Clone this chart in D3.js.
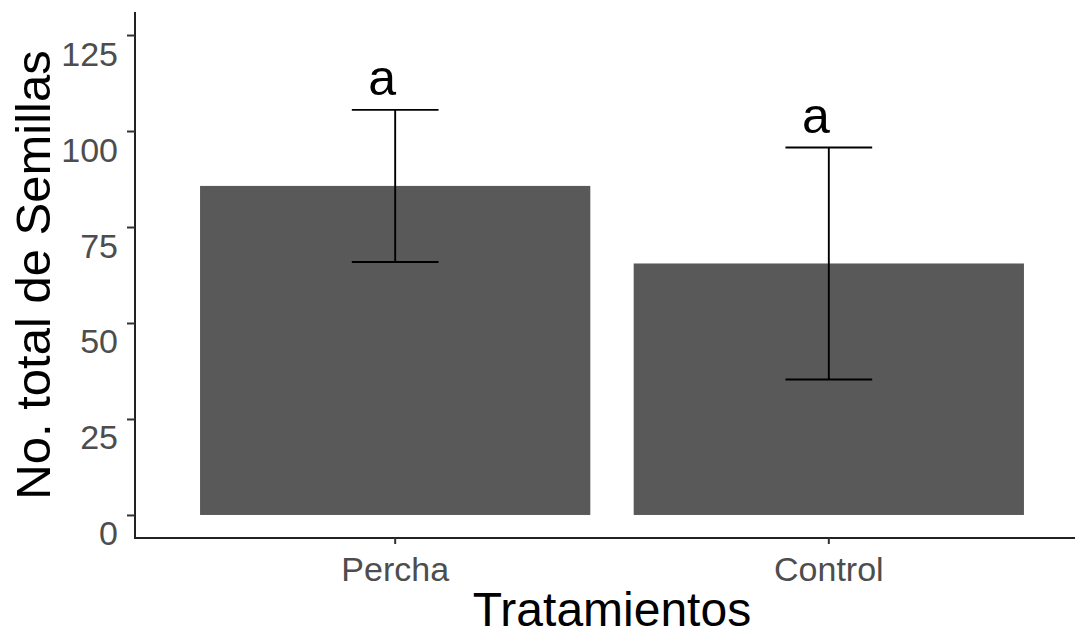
<!DOCTYPE html>
<html>
<head>
<meta charset="utf-8">
<script src="https://cdn.jsdelivr.net/npm/d3@7"></script>
<style>
  html, body { margin: 0; padding: 0; background: #fff; }
  svg { display: block; font-family: "Liberation Sans", Arial, sans-serif; }
</style>
</head>
<body>
<svg id="chart" width="1075" height="634"></svg>
<script>
// Seed totals per treatment, with error-bar half-widths and significance letters
const categories = ["Percha", "Control"];
const means = [85.7, 65.5];
const errors = [19.8, 30.2];
const letters = ["a", "a"];
const yTicks = [0, 25, 50, 75, 100, 125];

const W = 1075, H = 634;
const panel = { left: 135, top: 12, bottom: 538, right: 1089 };

const svg = d3.select("#chart");

const x = d3.scaleBand()
  .domain(categories)
  .range([panel.left, panel.right])
  .paddingInner(0.1)
  .paddingOuter(0.15);

const y = d3.scaleLinear()
  .domain([-6, 131])
  .range([panel.bottom, panel.top]);

const step = x.step();
const data = categories.map((c, i) => ({ cat: c, mean: means[i], err: errors[i], letter: letters[i] }));

// Bars
svg.append("g")
  .selectAll("rect")
  .data(data)
  .join("rect")
  .attr("x", d => x(d.cat))
  .attr("width", x.bandwidth())
  .attr("y", d => y(d.mean))
  .attr("height", d => y(0) - y(d.mean))
  .attr("fill", "#595959");

// Error bars
const whisker = step * 0.2;
const eb = svg.append("g").attr("stroke", "#000").attr("stroke-width", 1.9).attr("fill", "none");
data.forEach(d => {
  const cx = x(d.cat) + x.bandwidth() / 2;
  const top = y(d.mean + d.err), bot = y(d.mean - d.err);
  eb.append("line").attr("x1", cx).attr("x2", cx).attr("y1", top).attr("y2", bot);
  eb.append("line").attr("x1", cx - whisker / 2).attr("x2", cx + whisker / 2).attr("y1", top).attr("y2", top);
  eb.append("line").attr("x1", cx - whisker / 2).attr("x2", cx + whisker / 2).attr("y1", bot).attr("y2", bot);
});

// Significance letters above each error bar
svg.append("g")
  .selectAll("text")
  .data(data)
  .join("text")
  .attr("x", d => x(d.cat) + x.bandwidth() / 2 - 13)
  .attr("y", d => y(d.mean + d.err) - 15)
  .attr("text-anchor", "middle")
  .attr("font-size", 50)
  .attr("fill", "#000")
  .text(d => d.letter);

// Y axis
const yAxis = svg.append("g").attr("transform", `translate(${panel.left},0)`)
  .call(d3.axisLeft(y).tickValues(yTicks).tickSize(8).tickPadding(9).tickFormat(d3.format("d")));
yAxis.select(".domain").attr("stroke", "#222").attr("stroke-width", 2)
  .attr("d", `M0,${panel.top}V${panel.bottom}`);
yAxis.selectAll(".tick line").attr("stroke", "#333").attr("stroke-width", 2);
yAxis.selectAll(".tick text")
  .attr("font-size", 34)
  .attr("fill", "#4D4D4D")
  .attr("font-family", "Liberation Sans, Arial, sans-serif")
  .attr("dy", 30);

// X axis
const xAxis = svg.append("g").attr("transform", `translate(0,${panel.bottom})`)
  .call(d3.axisBottom(x).tickSize(6).tickPadding(10));
xAxis.select(".domain").attr("stroke", "#222").attr("stroke-width", 2)
  .attr("d", `M${panel.left - 1},0H${panel.right}`);
xAxis.selectAll(".tick line").attr("stroke", "#333").attr("stroke-width", 2);
xAxis.selectAll(".tick text")
  .attr("font-size", 34)
  .attr("fill", "#4D4D4D")
  .attr("font-family", "Liberation Sans, Arial, sans-serif")
  .attr("dy", 0)
  .attr("y", 43);

// Axis titles
svg.append("text")
  .attr("x", (panel.left + panel.right) / 2)
  .attr("y", 626)
  .attr("text-anchor", "middle")
  .attr("font-size", 48)
  .attr("fill", "#000")
  .text("Tratamientos");

svg.append("text")
  .attr("transform", `translate(50,${(panel.top + panel.bottom) / 2}) rotate(-90)`)
  .attr("text-anchor", "middle")
  .attr("font-size", 49)
  .attr("fill", "#000")
  .text("No. total de Semillas");
</script>
</body>
</html>
